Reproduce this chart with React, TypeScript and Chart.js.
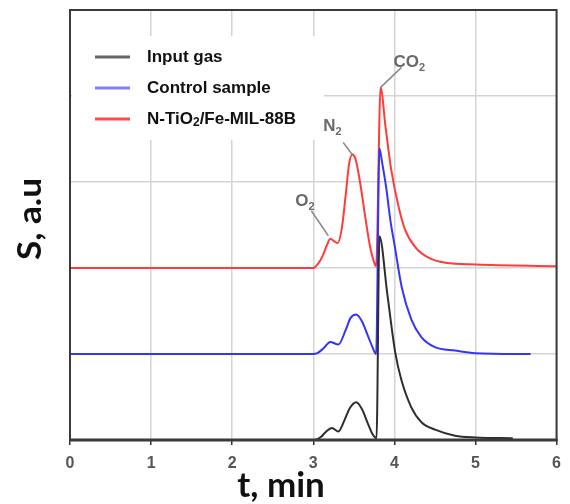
import React, { useEffect, useRef } from "react";
import { Chart, registerables } from "chart.js";

Chart.register(...registerables);

// ---- data ----
const tInput = [0, 3.0, 3.05, 3.1, 3.16, 3.23, 3.31, 3.38, 3.45, 3.53, 3.6, 3.67, 3.73, 3.78, 3.816, 3.914, 4.012, 4.086, 4.209, 4.331, 4.503, 4.748, 5.006, 5.46];
const sInput = [0, 0, 0.01, 0.04, 0.1, 0.14, 0.1, 0.22, 0.37, 0.44, 0.36, 0.2, 0.07, 0.02, 2.37, 1.69, 1.01, 0.7, 0.38, 0.21, 0.12, 0.05, 0.03, 0.02];

const tControl = [0, 3.0, 3.05, 3.12, 3.21, 3.31, 3.4, 3.46, 3.53, 3.6, 3.67, 3.73, 3.775, 3.816, 3.85, 3.9, 3.95, 4.0, 4.09, 4.21, 4.33, 4.5, 4.75, 5.0, 5.68];
const sControl = [1, 1, 1.01, 1.06, 1.14, 1.11, 1.28, 1.42, 1.46, 1.38, 1.22, 1.08, 1.0, 3.39, 3.22, 2.93, 2.56, 2.28, 1.78, 1.4, 1.2, 1.08, 1.04, 1.01, 1.0];

const tComposite = [0, 3.0, 3.06, 3.12, 3.17, 3.21, 3.26, 3.3, 3.35, 3.4, 3.44, 3.48, 3.52, 3.58, 3.64, 3.7, 3.76, 3.775, 3.83, 3.89, 3.96, 4.05, 4.13, 4.26, 4.42, 4.63, 5.0, 6.0];
const sComposite = [2, 2, 2.05, 2.15, 2.27, 2.34, 2.31, 2.29, 2.45, 2.85, 3.2, 3.32, 3.27, 2.98, 2.6, 2.25, 2.04, 2.02, 4.1, 3.65, 3.15, 2.72, 2.45, 2.24, 2.12, 2.06, 2.04, 2.02];

const xTicks = [0, 1, 2, 3, 4, 5, 6];
const seriesNames = ["Input gas", "Control sample", "N-TiO2/Fe-MIL-88B"];
const seriesColors = ["#2e2e2e", "#3434ff", "#ff3c3c"];
const legendColors = ["#666666", "#8080ff", "#ff4a4a"];

// peak labels: [main, subscript, t, s] anchors on curves
const peakLabels = [
  { main: "O", sub: "2", t: 3.21, s: 2.34 },
  { main: "N", sub: "2", t: 3.48, s: 3.32 },
  { main: "CO", sub: "2", t: 3.83, s: 4.1 },
];

const zip = (t: number[], s: number[]) => t.map((x, i) => ({ x, y: s[i] }));

const decorPlugin = {
  id: "decor",
  beforeDatasetsDraw(chart: any) {
    const { ctx, chartArea } = chart;
    ctx.save();
    ctx.fillStyle = "#ffffff";
    ctx.fillRect(chartArea.left + 2, 36, 252, 104);
    ctx.restore();
  },
  afterDraw(chart: any) {
    const { ctx, chartArea, scales } = chart;
    const xs = scales.x;
    const ys = scales.y;
    ctx.save();
    // frame
    ctx.strokeStyle = "#3a3a3a";
    ctx.lineWidth = 2;
    ctx.strokeRect(chartArea.left, chartArea.top, chartArea.right - chartArea.left, chartArea.bottom - chartArea.top);
    ctx.lineWidth = 3;
    ctx.beginPath();
    ctx.moveTo(chartArea.left - 1, chartArea.bottom);
    ctx.lineTo(chartArea.right + 1, chartArea.bottom);
    ctx.stroke();

    // legend
    const ly = [57, 88, 119];
    seriesNames.forEach((name, i) => {
      ctx.strokeStyle = legendColors[i];
      ctx.lineWidth = 3;
      ctx.beginPath();
      ctx.moveTo(95, ly[i]);
      ctx.lineTo(130, ly[i]);
      ctx.stroke();
      ctx.fillStyle = "#111111";
      ctx.textBaseline = "middle";
      ctx.textAlign = "left";
      const big = "bold 17px Arial, 'Liberation Sans', sans-serif";
      const small = "bold 12px Arial, 'Liberation Sans', sans-serif";
      if (i === 2) {
        ctx.font = big;
        let x = 147;
        ctx.fillText("N-TiO", x, ly[i]);
        x += ctx.measureText("N-TiO").width;
        ctx.font = small;
        ctx.fillText("2", x, ly[i] + 4);
        x += ctx.measureText("2").width;
        ctx.font = big;
        ctx.fillText("/Fe-MIL-88B", x, ly[i]);
      } else {
        ctx.font = big;
        ctx.fillText(name, 147, ly[i]);
      }
    });

    // peak labels
    const offsets = [
      { tx: -35, ty: -33, lx1: -19, ly1: -28, lx2: -2, ly2: -3 },
      { tx: -29, ty: -23, lx1: -9, ly1: -12, lx2: 0, ly2: 0 },
      { tx: 13, ty: -20, lx1: 21, ly1: -20, lx2: 0, ly2: 0 },
    ];
    peakLabels.forEach((p, i) => {
      const px = xs.getPixelForValue(p.t);
      const py = ys.getPixelForValue(p.s);
      const o = offsets[i];
      ctx.strokeStyle = "#8a8a8a";
      ctx.lineWidth = 1.5;
      ctx.beginPath();
      ctx.moveTo(px + o.lx1, py + o.ly1);
      ctx.lineTo(px + o.lx2, py + o.ly2);
      ctx.stroke();
      ctx.fillStyle = "#6a6a6a";
      ctx.textAlign = "left";
      ctx.textBaseline = "alphabetic";
      ctx.font = "bold 17px Arial, 'Liberation Sans', sans-serif";
      const bx = px + o.tx;
      const by = py + o.ty;
      ctx.fillText(p.main, bx, by);
      const w = ctx.measureText(p.main).width;
      ctx.font = "bold 11px Arial, 'Liberation Sans', sans-serif";
      ctx.fillText(p.sub, bx + w, by + 4);
    });

    // axis titles
    ctx.fillStyle = "#111111";
    ctx.textAlign = "center";
    ctx.textBaseline = "middle";
    ctx.font = "bold 35px Lato, 'Open Sans', sans-serif";
    ctx.fillText("t, min", 281, 486);
    ctx.save();
    ctx.translate(31, 219);
    ctx.rotate(-Math.PI / 2);
    ctx.scale(1.1, 1);
    ctx.font = "bold 32px Lato, 'Open Sans', sans-serif";
    ctx.fillText("S, a.u", 0, 0);
    ctx.restore();
    ctx.restore();
  },
};

export default function App() {
  const ref = useRef<HTMLCanvasElement>(null);
  useEffect(() => {
    document.body.style.margin = "0";
    const canvas = ref.current!;
    const chart = new Chart(canvas, {
      type: "line",
      data: {
        datasets: [
          { label: seriesNames[0], data: zip(tInput, sInput), borderColor: seriesColors[0] },
          { label: seriesNames[1], data: zip(tControl, sControl), borderColor: seriesColors[1] },
          { label: seriesNames[2], data: zip(tComposite, sComposite), borderColor: seriesColors[2] },
        ].map((d) => ({
          ...d,
          borderWidth: 2,
          pointRadius: 0,
          fill: false,
          cubicInterpolationMode: "monotone" as const,
        })),
      },
      options: {
        animation: false,
        responsive: false,
        maintainAspectRatio: false,
        layout: { padding: { top: 10, right: 11, left: 0, bottom: 0 } },
        plugins: { legend: { display: false }, tooltip: { enabled: false } },
        scales: {
          x: {
            type: "linear",
            min: 0,
            max: 6,
            afterBuildTicks: (s: any) => {
              s.ticks = xTicks.map((v) => ({ value: v }));
            },
            afterFit: (s: any) => {
              s.height = 64;
            },
            ticks: {
              color: "#555555",
              padding: 9,
              font: { size: 16, weight: "bold", family: "Arial, 'Liberation Sans', sans-serif" },
            },
            grid: { color: "#d4d4d4", lineWidth: 1.5, tickLength: 5, tickColor: "#333333", drawTicks: true },
            border: { display: false },
          },
          y: {
            type: "linear",
            min: 0,
            max: 5,
            ticks: { display: false, stepSize: 1 },
            afterFit: (s: any) => {
              s.width = 70;
            },
            grid: { color: "#d4d4d4", lineWidth: 1.5, drawTicks: false },
            border: { display: false },
          },
        },
      },
      plugins: [decorPlugin],
    });
    return () => chart.destroy();
  }, []);
  return <canvas ref={ref} width={570} height={504} style={{ display: "block" }} />;
}
